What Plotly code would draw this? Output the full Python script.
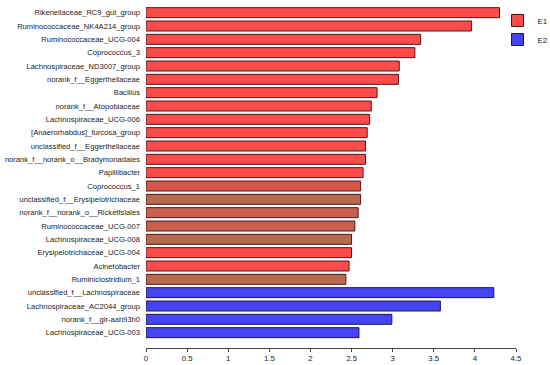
import plotly.graph_objects as go

e1_taxa = [
    "Rikenellaceae_RC9_gut_group", "Ruminococcaceae_NK4A214_group", "Ruminococcaceae_UCG-004",
    "Coprococcus_3", "Lachnospiraceae_ND3007_group", "norank_f__Eggerthellaceae", "Bacillus",
    "norank_f__Atopobiaceae", "Lachnospiraceae_UCG-006", "[Anaerorhabdus]_furcosa_group",
    "unclassified_f__Eggerthellaceae", "norank_f__norank_o__Bradymonadales", "Papillibacter",
    "Coprococcus_1", "unclassified_f__Erysipelotrichaceae", "norank_f__norank_o__Rickettsiales",
    "Ruminococcaceae_UCG-007", "Lachnospiraceae_UCG-008", "Erysipelotrichaceae_UCG-004",
    "Acinetobacter", "Ruminiclostridium_1",
]
e1_lda = [4.30, 3.96, 3.34, 3.27, 3.08, 3.07, 2.81, 2.74, 2.72, 2.69, 2.67, 2.67, 2.64,
          2.61, 2.61, 2.58, 2.54, 2.50, 2.50, 2.47, 2.43]
e1_colors = ["#ff4a4a"] * 13 + ["#d4574a", "#b8694f", "#c96050", "#c9604c", "#b8694f",
                                "#ff4a4a", "#ff4a4a", "#b8694f"]

e2_taxa = ["unclassified_f__Lachnospiraceae", "Lachnospiraceae_AC2044_group",
           "norank_f__gir-aah93h0", "Lachnospiraceae_UCG-003"]
e2_lda = [4.23, 3.58, 2.99, 2.59]

x_ticks = [0, 0.5, 1, 1.5, 2, 2.5, 3, 3.5, 4, 4.5]
x_ticktext = ["0", "0.5", "1", "1.5", "2", "2.5", "3", "3.5", "4", "4.5"]

fig = go.Figure()
fig.add_trace(go.Bar(
    name="E1", y=e1_taxa, x=e1_lda, orientation="h",
    marker=dict(color=e1_colors, line=dict(color="#4a1a1a", width=1)),
))
fig.add_trace(go.Bar(
    name="E2", y=e2_taxa, x=e2_lda, orientation="h",
    marker=dict(color="#4444f5", line=dict(color="#1a1a4a", width=1)),
))

fig.update_layout(
    width=550, height=365,
    margin=dict(l=146, r=34, t=6, b=17, autoexpand=False),
    paper_bgcolor="white", plot_bgcolor="white",
    barmode="overlay", bargap=0.25,
    font=dict(family="Liberation Sans, Arial", size=7.6, color="#222"),
    legend=dict(x=0.95, y=1.0, xanchor="left", yanchor="top",
                font=dict(size=8), itemwidth=30, tracegroupgap=0,
                bgcolor="rgba(0,0,0,0)"),
    showlegend=True,
)
fig.update_xaxes(
    range=[0, 4.5], tickvals=x_ticks, ticktext=x_ticktext, automargin=False,
    showgrid=False, zeroline=False, showline=True, linecolor="#444", linewidth=1,
    ticks="outside", ticklen=3, tickcolor="#444", tickfont=dict(size=7.8),
)
fig.update_yaxes(
    categoryorder="array", categoryarray=e1_taxa + e2_taxa, automargin=False,
    range=[25.15, -0.5], showgrid=False, zeroline=False, showline=False,
    ticks="", ticklabelstandoff=5, tickfont=dict(size=7.6),
)

fig.write_html(
    "out.html",
    config={"displayModeBar": False},
    post_script="document.body.style.margin='0';document.body.style.overflow='hidden';",
)
